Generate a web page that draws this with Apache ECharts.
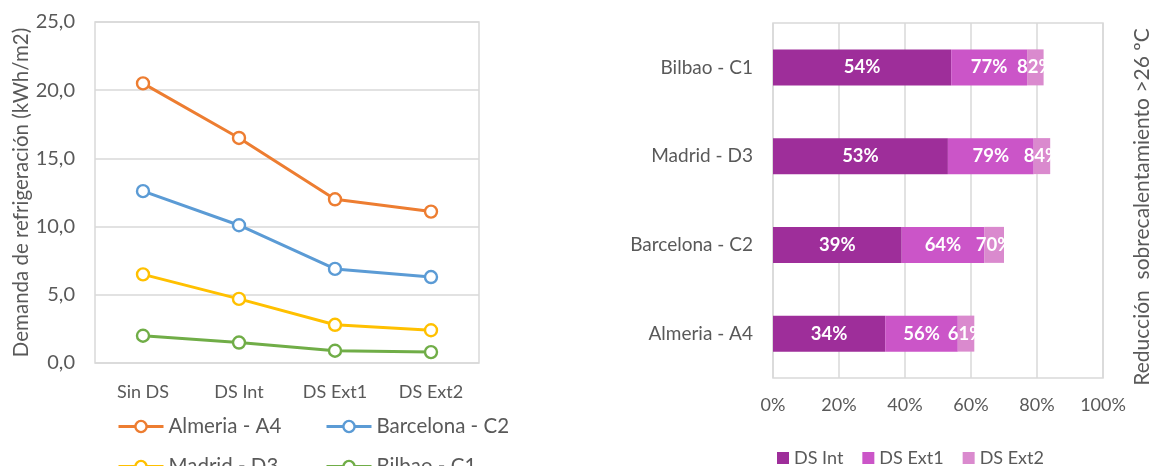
<!DOCTYPE html>
<html><head><meta charset="utf-8">
<script src="https://cdn.jsdelivr.net/npm/echarts@6/dist/echarts.min.js"></script>
<style>html,body{margin:0;padding:0;background:#fff}#c{width:1153px;height:466px}</style>
</head><body><div id="c"></div>
<script>
// Left chart data
const lineCategories = ['Sin DS', 'DS Int', 'DS Ext1', 'DS Ext2'];
const almeria = [20.5, 16.5, 12.0, 11.1];
const barcelona = [12.6, 10.1, 6.9, 6.3];
const madrid = [6.5, 4.7, 2.8, 2.4];
const bilbao = [2.0, 1.5, 0.9, 0.8];
const lineYTicks = [0, 5, 10, 15, 20, 25];

// Right chart data (cumulative reductions, %)
const barCategories = ['Almeria - A4', 'Barcelona - C2', 'Madrid - D3', 'Bilbao - C1'];
const cumInt = [34, 39, 53, 54];
const cumExt1 = [56, 64, 79, 77];
const cumExt2 = [61, 70, 84, 82];
const barXTicks = [0, 20, 40, 60, 80, 100];

const font = 'Lato, "Open Sans", sans-serif';
const txt = '#595959';
const gridC = '#d9d9d9';

const segInt = cumInt.slice();
const segExt1 = cumExt1.map((v, i) => v - cumInt[i]);
const segExt2 = cumExt2.map((v, i) => v - cumExt1[i]);

function lineSeries(name, data, color) {
  return {
    name, type: 'line', data, xAxisIndex: 0, yAxisIndex: 0,
    symbol: 'circle', symbolSize: 12, showSymbol: true,
    lineStyle: { color, width: 3 },
    itemStyle: { color: '#fff', borderColor: color, borderWidth: 2.4 },
    emphasis: { disabled: true }
  };
}
function barSeries(name, seg, cum, color) {
  return {
    name, type: 'bar', stack: 's', data: seg, xAxisIndex: 1, yAxisIndex: 1,
    barWidth: 36, itemStyle: { color },
    label: {
      show: true, position: 'inside', color: '#fff', fontWeight: 'bold',
      fontFamily: font, fontSize: 18.5,
      formatter: p => cum[p.dataIndex] + '%'
    },
    emphasis: { disabled: true }
  };
}
function lineLegend(name, left, top) {
  return { orient: 'horizontal', left, top, itemWidth: 45, itemHeight: 14,
    lineStyle: { width: 3 }, itemStyle: { borderWidth: 2.4 },
    data: [name], textStyle: { color: txt, fontSize: 20.5, fontFamily: font } };
}

const chart = echarts.init(document.getElementById('c'));
chart.setOption({
  animation: false,
  textStyle: { fontFamily: font, color: txt },
  grid: [
    { left: 95, top: 22, width: 384, height: 341, show: true, borderColor: gridC, borderWidth: 1.5, containLabel: false },
    { left: 773, top: 23, width: 330, height: 355, show: true, borderColor: gridC, borderWidth: 1.5, containLabel: false }
  ],
  legend: [
    lineLegend('Almeria - A4', 112, 411),
    lineLegend('Madrid - D3', 112, 451),
    lineLegend('Barcelona - C2', 320, 411),
    lineLegend('Bilbao - C1', 320, 451),
    { orient: 'horizontal', left: 772, top: 444, itemWidth: 12, itemHeight: 12, itemGap: 19, icon: 'rect',
      data: ['DS Int', 'DS Ext1', 'DS Ext2'], textStyle: { color: txt, fontSize: 18, fontFamily: font } }
  ],
  xAxis: [
    { type: 'category', gridIndex: 0, data: lineCategories, boundaryGap: true,
      axisLine: { show: false }, axisTick: { show: false },
      axisLabel: { color: txt, fontSize: 18, margin: 20 } },
    { type: 'value', gridIndex: 1, min: barXTicks[0], max: barXTicks[barXTicks.length - 1], interval: 20,
      axisLine: { show: false }, axisTick: { show: false },
      splitLine: { lineStyle: { color: gridC, width: 1.5 } },
      axisLabel: { color: txt, fontSize: 18, margin: 18, formatter: v => v + '%' } }
  ],
  yAxis: [
    { type: 'value', gridIndex: 0, min: lineYTicks[0], max: lineYTicks[lineYTicks.length - 1], interval: 5,
      axisLine: { show: false }, axisTick: { show: false },
      splitLine: { lineStyle: { color: gridC, width: 1.5 } },
      axisLabel: { color: txt, fontSize: 20, margin: 20, formatter: v => v.toFixed(1).replace('.', ',') },
      name: 'Demanda de refrigeración (kWh/m2)', nameLocation: 'middle', nameGap: 62, nameRotate: 90,
      nameTextStyle: { color: txt, fontSize: 20.5, fontFamily: font } },
    { type: 'category', gridIndex: 1, data: barCategories,
      axisLine: { show: false }, axisTick: { show: false },
      axisLabel: { color: txt, fontSize: 19, margin: 20 } },
  ],
  series: [
    lineSeries('Almeria - A4', almeria, '#ED7D31'),
    lineSeries('Barcelona - C2', barcelona, '#5B9BD5'),
    lineSeries('Madrid - D3', madrid, '#FFC000'),
    lineSeries('Bilbao - C1', bilbao, '#70AD47'),
    barSeries('DS Int', segInt, cumInt, '#9E2E9A'),
    barSeries('DS Ext1', segExt1, cumExt1, '#CB55C8'),
    barSeries('DS Ext2', segExt2, cumExt2, '#DA8ACE')
  ],
  graphic: [
    { type: 'text', x: 1142, y: 207, rotation: Math.PI / 2, origin: [0, 0],
      style: { text: 'Reducción  sobrecalentamiento >26 ºC', fill: txt, fontSize: 21, fontFamily: font,
        align: 'center', verticalAlign: 'middle' } }
  ]
});
</script></body></html>
